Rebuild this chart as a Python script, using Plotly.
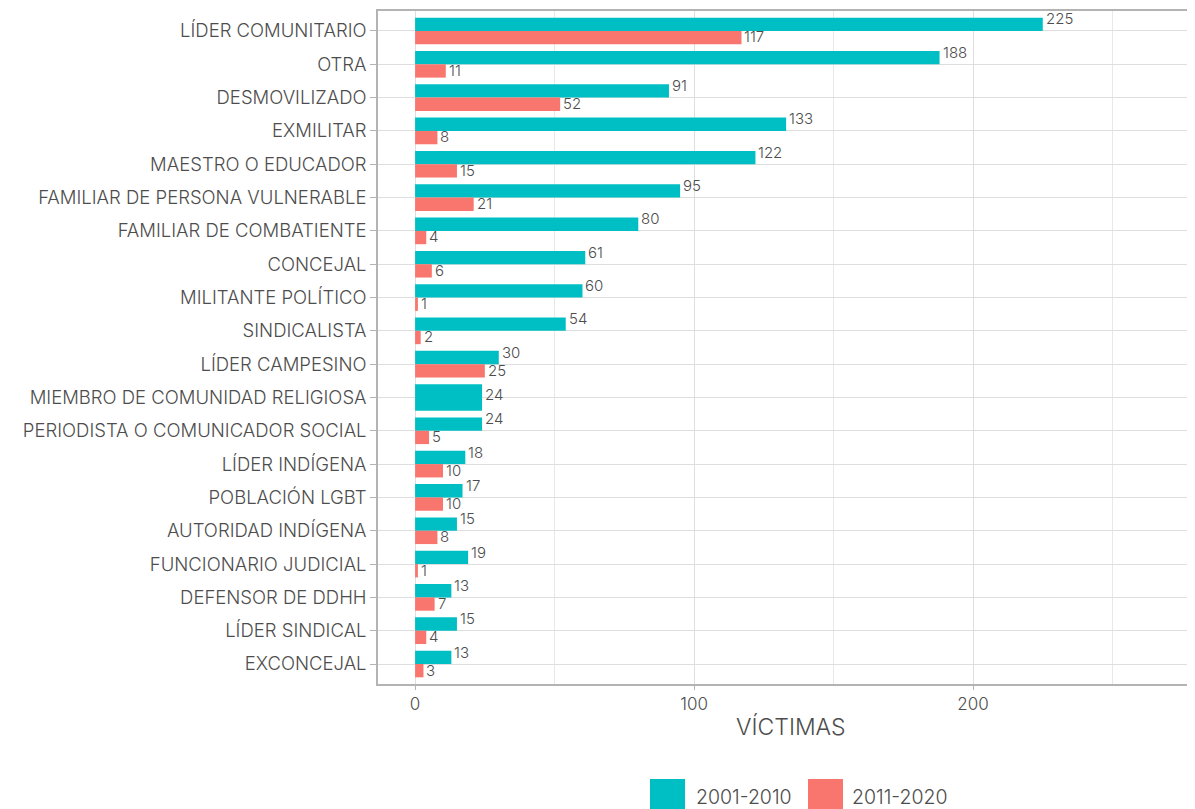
import plotly.graph_objects as go

categories = [
    "LÍDER COMUNITARIO", "OTRA", "DESMOVILIZADO", "EXMILITAR", "MAESTRO O EDUCADOR",
    "FAMILIAR DE PERSONA VULNERABLE", "FAMILIAR DE COMBATIENTE", "CONCEJAL",
    "MILITANTE POLÍTICO", "SINDICALISTA", "LÍDER CAMPESINO",
    "MIEMBRO DE COMUNIDAD RELIGIOSA", "PERIODISTA O COMUNICADOR SOCIAL",
    "LÍDER INDÍGENA", "POBLACIÓN LGBT", "AUTORIDAD INDÍGENA", "FUNCIONARIO JUDICIAL",
    "DEFENSOR DE DDHH", "LÍDER SINDICAL", "EXCONCEJAL",
]
v_2001_2010 = [225, 188, 91, 133, 122, 95, 80, 61, 60, 54, 30, 24, 24, 18, 17, 15, 19, 13, 15, 13]
v_2011_2020 = [117, 11, 52, 8, 15, 21, 4, 6, 1, 2, 25, None, 5, 10, 10, 8, 1, 7, 4, 3]
series_names = ["2001-2010", "2011-2020"]
x_title = "VÍCTIMAS"
x_ticks = [0, 100, 200]
x_minor = [50, 150, 250]

TEAL = "#00BFC4"
SALMON = "#F8766D"
TXT = "#4D4D4D"
FONT = "Inter"
WT = 300

OFF = 8
W, H = 1195 - 2 * OFF, 809 - OFF
ML, MR, MT, MB = 378 - OFF, 0, 11 - OFF, 809 - 684

def px_x(p):
    return (p - OFF - ML) / (W - ML - MR)

def px_y(p):
    return (H - MB - (p - OFF)) / (H - MT - MB)

n = len(categories)
w1 = [0.4 if b is not None else 0.8 for b in v_2011_2020]
o1 = [-0.4] * n

fig = go.Figure()
fig.add_trace(go.Bar(
    y=categories, x=v_2001_2010, orientation="h", name=series_names[0],
    marker=dict(color=TEAL, line=dict(width=0)), width=w1, offset=o1,
    showlegend=False, hoverinfo="x+y",
))
fig.add_trace(go.Bar(
    y=categories, x=v_2011_2020, orientation="h", name=series_names[1],
    marker=dict(color=SALMON, line=dict(width=0)), width=0.4, offset=0.0,
    showlegend=False, hoverinfo="x+y",
))

lab_font = dict(family=FONT, size=15, color=TXT, weight=WT)
annotations = []
for c, a, b in zip(categories, v_2001_2010, v_2011_2020):
    annotations.append(dict(
        x=a, y=c, xref="x", yref="y", text=str(a), showarrow=False,
        xanchor="left", yanchor="middle", xshift=1,
        yshift=12 if b is not None else 3, font=lab_font,
    ))
    if b is not None:
        annotations.append(dict(
            x=b, y=c, xref="x", yref="y", text=str(b), showarrow=False,
            xanchor="left", yanchor="middle", xshift=1, yshift=-6, font=lab_font,
        ))

# x-axis title, centred on the (wider) reference panel
annotations.append(dict(x=px_x(791), y=px_y(727), xref="paper", yref="paper",
                        text=x_title, showarrow=False, xanchor="center", yanchor="middle",
                        font=dict(family=FONT, size=23, color=TXT, weight=WT)))

shapes = []
legend_items = [(650, 694, TEAL, series_names[0]), (808, 850, SALMON, series_names[1])]
for kx, tx, col, name in legend_items:
    shapes.append(dict(type="rect", xref="paper", yref="paper",
                       x0=px_x(kx), x1=px_x(kx + 35), y0=px_y(779), y1=px_y(812),
                       fillcolor=col, line=dict(width=0), layer="above"))
    annotations.append(dict(x=px_x(tx), y=px_y(797), xref="paper", yref="paper",
                            text=name, showarrow=False, xanchor="left", yanchor="middle",
                            font=dict(family=FONT, size=19.5, color=TXT, weight=WT)))

fig.update_layout(
    width=W, height=H,
    margin=dict(l=ML, r=MR, t=MT, b=MB, pad=0),
    barmode="overlay",
    plot_bgcolor="white", paper_bgcolor="white",
    font=dict(family=FONT, color=TXT),
    showlegend=False,
    annotations=annotations,
    shapes=shapes,
    xaxis=dict(
        range=[-13.3, 276.7], tickvals=x_ticks, ticktext=[str(t) for t in x_ticks],
        showgrid=True, gridcolor="#DEDEDE", gridwidth=1,
        minor=dict(tickvals=x_minor, showgrid=True, gridcolor="#E8E8E8", gridwidth=1, ticks=""),
        zeroline=False, showline=True, linecolor="#B3B3B3", linewidth=1.5, mirror=True,
        ticks="outside", ticklen=4, tickcolor="#B3B3B3",
        tickfont=dict(family=FONT, size=17, color=TXT, weight=WT),
    ),
    yaxis=dict(
        type="category", categoryorder="array", categoryarray=categories,
        range=[n - 0.4, -0.6],
        showgrid=True, gridcolor="#DEDEDE", gridwidth=1,
        zeroline=False, showline=True, linecolor="#B3B3B3", linewidth=1.5, mirror=False,
        ticks="outside", ticklen=6, tickcolor="#B3B3B3",
        tickfont=dict(family=FONT, size=18.5, color=TXT, weight=WT),
    ),
)

fig.write_html("out.html")
